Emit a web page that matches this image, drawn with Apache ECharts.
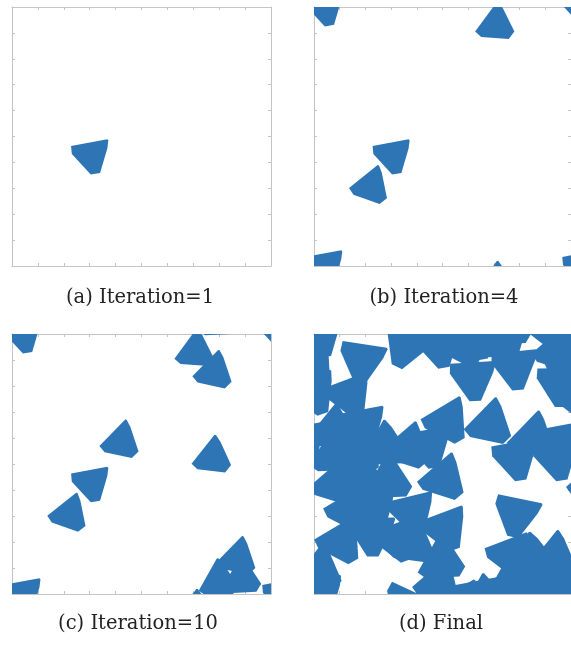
<!DOCTYPE html>
<html>
<head>
<meta charset="utf-8">
<script src="https://cdn.jsdelivr.net/npm/echarts@6/dist/echarts.min.js"></script>
<style>
  html, body { margin: 0; padding: 0; background: #ffffff; }
  #chart { width: 571px; height: 648px; }
</style>
</head>
<body>
<div id="chart"></div>
<script>
// Outline of one tile, in domain units, relative to its centre.
const tileOutline = [
  [-0.74, 0.35], [0.66, 0.61], [0.70, 0.57], [0.66, 0.26],
  [0.38, -0.69], [0.02, -0.75], [-0.71, 0.04]
];

// Tile placements per stage: [centre x, centre y, rotation in degrees].
const iter1Tiles = [
  [3.02, 4.28, 0]
];
const iter4Tiles = [
  [3.02, 4.28, 0], [2.18, 3.05, 28], [7.05, 9.30, 43], [0.40, 10.00, 0]
];
const iter10Tiles = [
  [3.02, 4.28, 0], [2.18, 3.05, 28], [7.05, 9.30, 43], [0.40, 10.00, 0],
  [7.77, 8.51, 35], [4.18, 5.83, 35], [7.72, 5.23, 41],
  [8.69, 1.35, 35], [7.95, 0.47, 50], [8.85, 0.55, 50]
];
const finalTiles = [
  [0.20, 10.00, 0], [-0.10, 8.90, 20], [-0.05, 7.75, 10], [1.83, 9.03, -19],
  [3.53, 9.60, -35], [4.81, 9.58, 0], [5.71, 9.58, 20], [6.60, 9.70, 50],
  [7.39, 9.70, 0], [6.14, 8.32, -7], [7.77, 8.74, -5], [9.45, 9.32, 30],
  [9.51, 8.10, -10], [1.34, 7.65, 10], [0.69, 6.24, 40], [0.75, 5.35, 50],
  [1.85, 6.50, 0], [2.75, 5.60, 50], [1.80, 5.50, 20], [3.60, 5.60, 30],
  [5.14, 6.63, 20], [6.81, 6.50, 35], [4.43, 5.73, 0], [8.48, 5.99, 35],
  [9.45, 5.86, 0], [7.80, 5.25, 0], [9.40, 5.25, 0], [0.80, 4.20, 30],
  [1.47, 4.58, 10], [2.88, 4.32, 50], [2.10, 3.90, 40], [1.35, 3.20, 20],
  [2.24, 3.17, 0], [5.00, 4.40, 30], [3.78, 3.17, 3], [5.07, 2.53, 10],
  [4.94, 1.24, 50], [3.20, 2.10, 10], [7.84, 3.10, -22], [7.60, 1.50, 10],
  [8.50, 1.30, 55], [9.32, 1.37, 40], [8.93, 0.35, 10], [7.52, 0.22, 50],
  [1.00, 2.00, 20], [2.20, 2.35, -10], [3.80, 1.90, 40], [4.81, 0.35, 30],
  [0.18, 0.86, 40], [6.30, -0.10, 0]
];

const panelTitles = ['(a) Iteration=1', '(b) Iteration=4', '(c) Iteration=10', '(d) Final'];
const domainMax = 10;   // periodic square domain [0, 10] x [0, 10]
const tickStep = 1;

const tileColor = '#2E75B6';
const frameColor = '#c4c4c4';

const panels = [
  { tiles: iter1Tiles, scale: 1, grid: { left: 12, top: 7, width: 259, height: 259 }, title: [140, 298] },
  { tiles: iter4Tiles, scale: 1, grid: { left: 314, top: 7, width: 259, height: 259 }, title: [444, 298] },
  { tiles: iter10Tiles, scale: 1, grid: { left: 12, top: 334, width: 259, height: 260 }, title: [138, 624] },
  { tiles: finalTiles, scale: 1.22, grid: { left: 314, top: 334, width: 259, height: 260 }, title: [441, 624] }
];

// Each tile is drawn with its periodic images so pieces leaving one edge re-enter at the opposite one.
function makeRenderer(k) {
  return function (params, api) {
    const cx = api.value(0), cy = api.value(1);
    const a = api.value(2) * Math.PI / 180;
    const c = Math.cos(a) * k, s = Math.sin(a) * k;
    const children = [];
    [-domainMax, 0, domainMax].forEach(function (ox) {
      [-domainMax, 0, domainMax].forEach(function (oy) {
        const pts = tileOutline.map(function (p) {
          return api.coord([cx + ox + p[0] * c - p[1] * s, cy + oy + p[0] * s + p[1] * c]);
        });
        children.push({ type: 'polygon', shape: { points: pts }, style: { fill: tileColor } });
      });
    });
    return { type: 'group', children: children };
  };
}

function frameAxis(gridIndex, position) {
  return {
    type: 'value', gridIndex: gridIndex, position: position,
    min: 0, max: domainMax, interval: tickStep,
    axisLine: { show: true, onZero: false, lineStyle: { color: frameColor, width: 1 } },
    axisTick: { show: true, inside: true, length: 3, lineStyle: { color: frameColor, width: 1 } },
    axisLabel: { show: false },
    splitLine: { show: false }
  };
}

const grid = [], xAxis = [], yAxis = [], series = [], graphic = [];
panels.forEach(function (p, i) {
  grid.push(Object.assign({ containLabel: false }, p.grid));
  xAxis.push(frameAxis(i, 'bottom'), frameAxis(i, 'top'));
  yAxis.push(frameAxis(i, 'left'), frameAxis(i, 'right'));
  series.push({
    type: 'custom', xAxisIndex: 2 * i, yAxisIndex: 2 * i,
    clip: true, silent: true,
    renderItem: makeRenderer(p.scale),
    data: p.tiles
  });
  graphic.push({
    type: 'text', x: p.title[0], y: p.title[1],
    style: {
      text: panelTitles[i],
      font: '19.5px "DejaVu Serif"',
      fill: '#222222',
      textAlign: 'center', textVerticalAlign: 'middle',
      align: 'center', verticalAlign: 'middle'
    }
  });
});

const chart = echarts.init(document.getElementById('chart'), null, { renderer: 'canvas' });
chart.setOption({
  animation: false,
  backgroundColor: '#ffffff',
  grid: grid, xAxis: xAxis, yAxis: yAxis, series: series, graphic: graphic
});
</script>
</body>
</html>
